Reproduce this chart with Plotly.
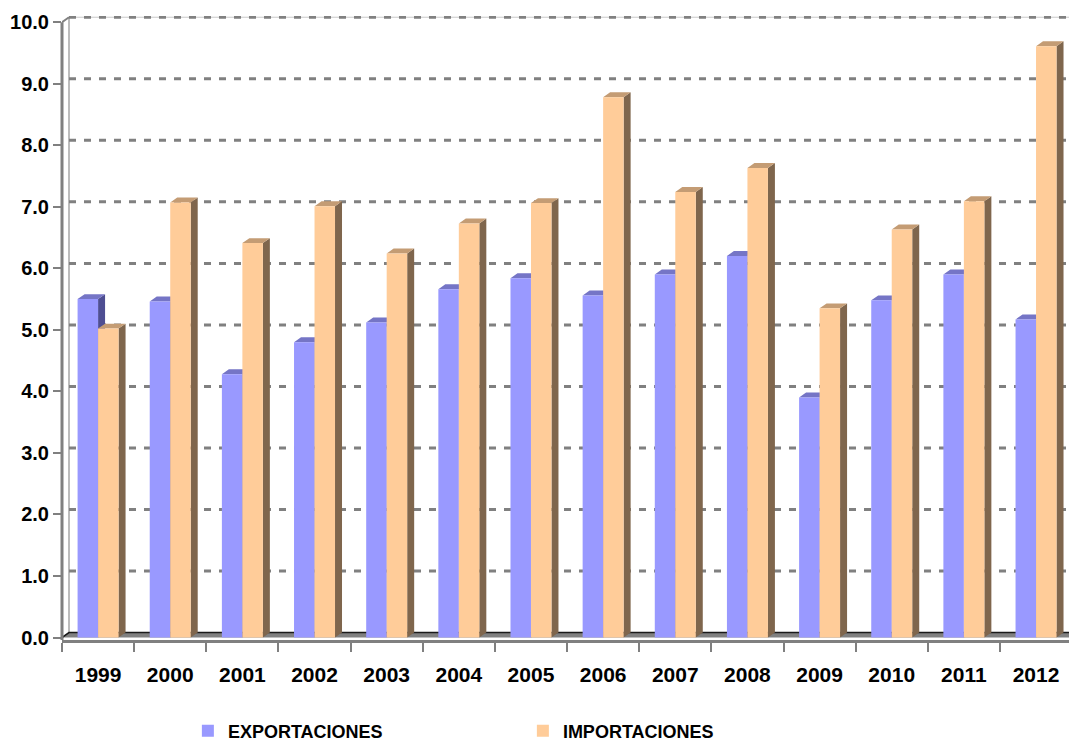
import plotly.graph_objects as go

# Exports / imports per year
years = ["1999", "2000", "2001", "2002", "2003", "2004", "2005",
         "2006", "2007", "2008", "2009", "2010", "2011", "2012"]
exportaciones = [5.50, 5.46, 4.28, 4.80, 5.12, 5.66, 5.84,
                 5.56, 5.90, 6.20, 3.90, 5.48, 5.90, 5.17]
importaciones = [5.02, 7.07, 6.41, 7.01, 6.24, 6.73, 7.06,
                 8.78, 7.24, 7.63, 5.35, 6.63, 7.09, 9.61]
y_ticks = [0, 1, 2, 3, 4, 5, 6, 7, 8, 9, 10]

# Colours: front, top and side faces of each series
EXP_FRONT, EXP_TOP, EXP_SIDE = "#9999FF", "#7575C6", "#4E4E92"
IMP_FRONT, IMP_TOP, IMP_SIDE = "#FFCC99", "#C49C74", "#7F664D"
GRAY = "#808080"

# Bar geometry in axis units (pseudo-3D depth)
BAR_W = 0.284
DX = 0.097
DY = 0.08
X_MIN, X_MAX = -0.5, 13.457
Y_MIN, Y_MAX = -0.04, 10.1

xs = list(range(len(years)))


def face_polys(values, left_offset):
    """Return side and top face outlines (None-separated) for one series."""
    side_x, side_y, top_x, top_y = [], [], [], []
    for i, v in zip(xs, values):
        xl = i + left_offset
        xr = xl + BAR_W
        side_x += [xr, xr + DX, xr + DX, xr, xr, None]
        side_y += [0, DY, v + DY, v, 0, None]
        top_x += [xl, xl + DX, xr + DX, xr, xl, None]
        top_y += [v, v + DY, v + DY, v, v, None]
    return side_x, side_y, top_x, top_y


fig = go.Figure()

# Floor slab
fig.add_trace(go.Scatter(
    x=[X_MIN, X_MIN + DX, X_MAX + 1, X_MAX + 1, X_MIN],
    y=[0, DY, DY, 0, 0],
    fill="toself", fillcolor=GRAY, mode="lines",
    line=dict(width=0), hoverinfo="skip", showlegend=False))
fig.add_trace(go.Scatter(
    x=[X_MIN, X_MIN + DX, X_MAX + 1], y=[0, DY, DY],
    mode="lines", line=dict(color="#1a1a1a", width=1.5),
    hoverinfo="skip", showlegend=False))

# Side and top faces (drawn beneath the front faces)
for vals, off, side_c, top_c in [
    (exportaciones, -BAR_W, EXP_SIDE, EXP_TOP),
    (importaciones, 0.0, IMP_SIDE, IMP_TOP),
]:
    sx, sy, tx, ty = face_polys(vals, off)
    fig.add_trace(go.Scatter(x=sx, y=sy, fill="toself", fillcolor=side_c,
                             mode="lines", line=dict(width=0),
                             hoverinfo="skip", showlegend=False))
    fig.add_trace(go.Scatter(x=tx, y=ty, fill="toself", fillcolor=top_c,
                             mode="lines", line=dict(width=0),
                             hoverinfo="skip", showlegend=False))

# Front faces
fig.add_trace(go.Bar(x=xs, y=exportaciones, width=BAR_W, offset=-BAR_W,
                     marker=dict(color=EXP_FRONT, line=dict(width=0)),
                     name="EXPORTACIONES", xaxis="x2", yaxis="y2"))
fig.add_trace(go.Bar(x=xs, y=importaciones, width=BAR_W, offset=0,
                     marker=dict(color=IMP_FRONT, line=dict(width=0)),
                     name="IMPORTACIONES", xaxis="x2", yaxis="y2"))

shapes = []
# Back wall edges
shapes.append(dict(type="line", xref="x", yref="y",
                   x0=X_MIN + DX, x1=X_MIN + DX, y0=DY, y1=10 + DY,
                   line=dict(color="#A6A6A6", width=1.5), layer="below"))
shapes.append(dict(type="line", xref="x", yref="y",
                   x0=X_MIN, x1=X_MIN + DX, y0=10, y1=10 + DY,
                   line=dict(color=GRAY, width=2), layer="below"))
shapes.append(dict(type="line", xref="x", yref="y",
                   x0=X_MIN + DX, x1=X_MAX + 1, y0=10 + DY, y1=10 + DY,
                   line=dict(color="#C8C8C8", width=1), layer="below"))
# Dashed gridlines on the back wall
for v in y_ticks[1:]:
    shapes.append(dict(type="line", xref="x", yref="y",
                       x0=X_MIN + DX, x1=X_MAX + 1, y0=v + DY, y1=v + DY,
                       line=dict(color=GRAY, width=3, dash="7px,8px"),
                       layer="below"))
# Value axis line
shapes.append(dict(type="line", xref="paper", yref="y",
                   x0=0, x1=0, y0=Y_MIN, y1=10,
                   line=dict(color=GRAY, width=3), layer="above"))

font_family = "Arial, Liberation Sans, sans-serif"

fig.update_layout(
    width=1069, height=742,
    margin=dict(l=62, r=0, t=16, b=102, autoexpand=False),
    plot_bgcolor="white", paper_bgcolor="white",
    barmode="overlay",
    shapes=shapes,
    showlegend=True,
    legend=dict(orientation="h", x=0.125, y=-0.146,
                xanchor="left", yanchor="middle",
                font=dict(family=font_family, size=18, color="black",
                          weight="bold"),
                entrywidth=290, traceorder="normal"),
    xaxis=dict(range=[X_MIN, X_MAX], tickmode="array", tickvals=xs,
               ticktext=years, ticks="", showgrid=False, zeroline=False,
               showline=True, linecolor=GRAY, linewidth=3,
               ticklabelstandoff=14,
               tickfont=dict(family=font_family, size=21, color="black",
                             weight="bold"),
               minor=dict(tickmode="array",
                          tickvals=[i - 0.5 for i in range(len(years))],
                          ticks="outside", ticklen=9, tickwidth=2,
                          tickcolor=GRAY, showgrid=False)),
    yaxis=dict(range=[Y_MIN, Y_MAX], tickmode="array", tickvals=y_ticks,
               tickformat=".1f", ticks="outside", ticklen=8, tickwidth=2,
               tickcolor=GRAY, showline=False, showgrid=False,
               zeroline=False,
               tickfont=dict(family=font_family, size=20, color="black",
                             weight="bold")),
    xaxis2=dict(range=[X_MIN, X_MAX], overlaying="x", visible=False),
    yaxis2=dict(range=[Y_MIN, Y_MAX], overlaying="y", visible=False),
)

fig.write_html("out.html")
